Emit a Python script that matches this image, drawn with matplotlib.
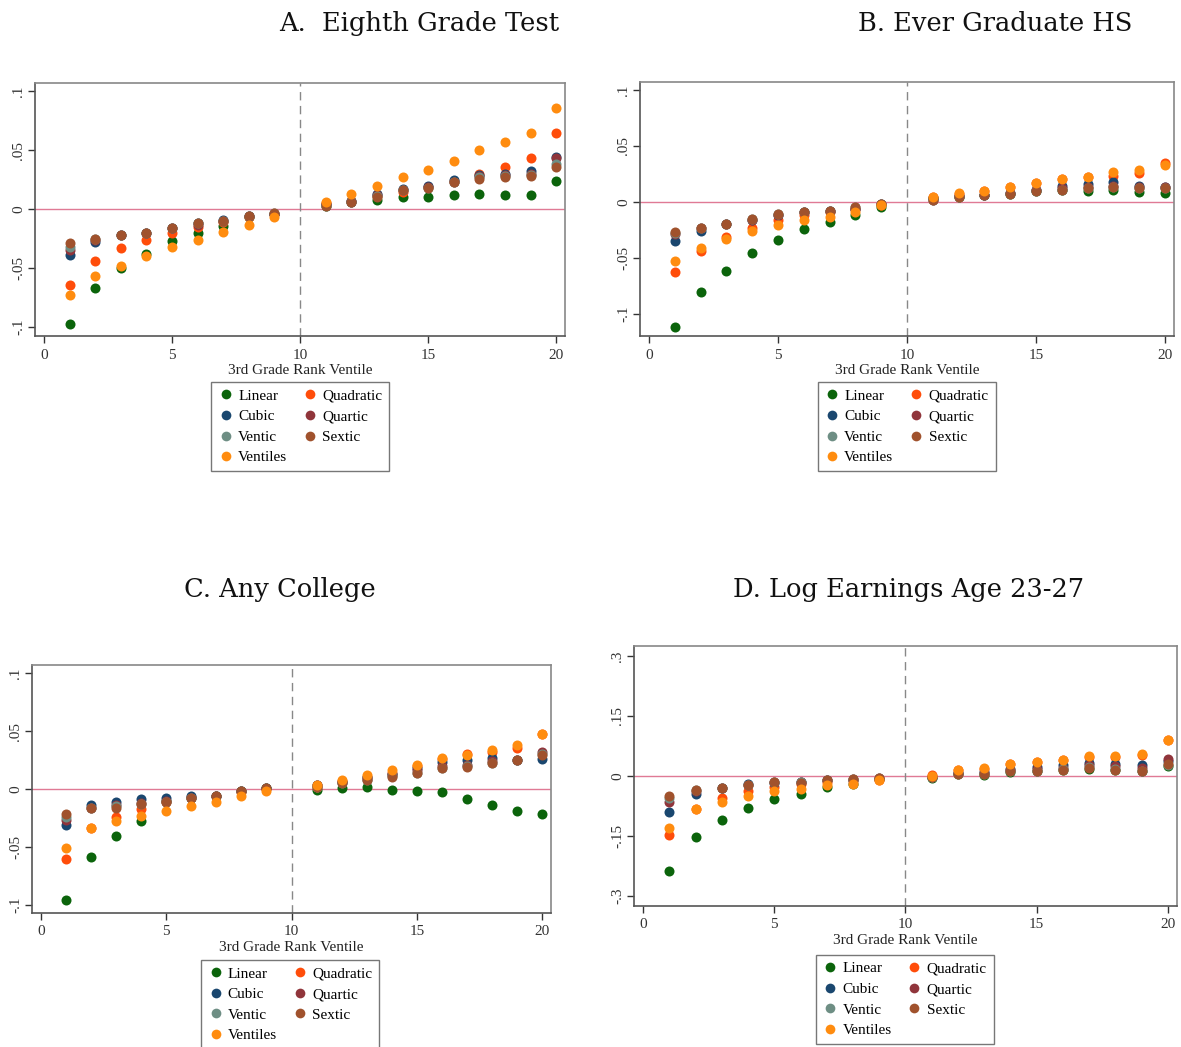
"""Polynomial-fit comparison of rank ventile effects, four outcome panels."""

import matplotlib
matplotlib.use("Agg")
import matplotlib.pyplot as plt
from matplotlib.lines import Line2D

plt.rcParams["font.family"] = ["Liberation Serif", "DejaVu Serif"]

# --- Data ---------------------------------------------------------------------
ventiles = [1, 2, 3, 4, 5, 6, 7, 8, 9, 11, 12, 13, 14, 15, 16, 17, 18, 19, 20]

series_names = ["Linear", "Quadratic", "Cubic", "Quartic", "Ventic", "Sextic", "Ventiles"]

# A. Eighth Grade Test
a_linear = [-0.097, -0.067, -0.050, -0.038, -0.027, -0.020, -0.014, -0.007, -0.004,
            0.003, 0.006, 0.008, 0.010, 0.010, 0.012, 0.013, 0.012, 0.012, 0.024]
a_quadratic = [-0.064, -0.044, -0.033, -0.026, -0.020, -0.015, -0.011, -0.007, -0.004,
               0.005, 0.007, 0.011, 0.015, 0.019, 0.024, 0.030, 0.036, 0.043, 0.065]
a_cubic = [-0.039, -0.028, -0.022, -0.020, -0.016, -0.012, -0.009, -0.006, -0.004,
           0.004, 0.007, 0.013, 0.017, 0.020, 0.025, 0.029, 0.030, 0.032, 0.044]
a_quartic = [-0.035, -0.026, -0.022, -0.020, -0.016, -0.013, -0.010, -0.006, -0.004,
             0.004, 0.006, 0.012, 0.016, 0.019, 0.023, 0.028, 0.029, 0.030, 0.043]
a_ventic = [-0.032, -0.025, -0.022, -0.020, -0.016, -0.012, -0.010, -0.006, -0.003,
            0.003, 0.006, 0.011, 0.016, 0.018, 0.023, 0.027, 0.028, 0.029, 0.038]
a_sextic = [-0.029, -0.025, -0.022, -0.020, -0.016, -0.012, -0.010, -0.006, -0.003,
            0.003, 0.006, 0.010, 0.016, 0.018, 0.023, 0.026, 0.027, 0.028, 0.036]
a_ventiles = [-0.073, -0.057, -0.048, -0.040, -0.032, -0.026, -0.019, -0.013, -0.007,
              0.006, 0.013, 0.020, 0.027, 0.033, 0.041, 0.050, 0.057, 0.065, 0.086]

# B. Ever Graduate HS
b_linear = [-0.112, -0.081, -0.062, -0.046, -0.034, -0.024, -0.018, -0.012, -0.005,
            0.003, 0.004, 0.006, 0.007, 0.010, 0.011, 0.010, 0.011, 0.009, 0.008]
b_quadratic = [-0.063, -0.044, -0.031, -0.023, -0.016, -0.012, -0.009, -0.006, -0.003,
               0.004, 0.007, 0.010, 0.013, 0.017, 0.020, 0.022, 0.023, 0.026, 0.035]
b_cubic = [-0.035, -0.026, -0.020, -0.016, -0.012, -0.009, -0.008, -0.006, -0.002,
           0.003, 0.005, 0.006, 0.008, 0.011, 0.014, 0.016, 0.018, 0.014, 0.013]
b_quartic = [-0.029, -0.023, -0.020, -0.016, -0.012, -0.009, -0.008, -0.006, -0.002,
             0.002, 0.005, 0.006, 0.008, 0.011, 0.012, 0.013, 0.014, 0.013, 0.013]
b_ventic = [-0.028, -0.023, -0.020, -0.015, -0.011, -0.009, -0.008, -0.005, -0.002,
            0.002, 0.004, 0.006, 0.007, 0.010, 0.011, 0.012, 0.013, 0.012, 0.012]
b_sextic = [-0.027, -0.023, -0.020, -0.015, -0.011, -0.009, -0.008, -0.005, -0.002,
            0.002, 0.004, 0.006, 0.007, 0.010, 0.011, 0.012, 0.013, 0.012, 0.012]
b_ventiles = [-0.053, -0.041, -0.033, -0.026, -0.021, -0.016, -0.014, -0.009, -0.003,
              0.004, 0.008, 0.010, 0.013, 0.017, 0.020, 0.022, 0.027, 0.028, 0.033]

# C. Any College
c_linear = [-0.096, -0.059, -0.041, -0.028, -0.010, -0.008, -0.006, -0.002, 0.001,
            -0.001, 0.001, 0.002, -0.001, -0.002, -0.003, -0.009, -0.014, -0.019, -0.022]
c_quadratic = [-0.060, -0.034, -0.024, -0.017, -0.011, -0.007, -0.006, -0.003, 0.000,
               0.002, 0.007, 0.010, 0.014, 0.020, 0.026, 0.030, 0.032, 0.035, 0.047]
c_cubic = [-0.031, -0.014, -0.011, -0.009, -0.008, -0.006, -0.006, -0.002, 0.001,
           0.003, 0.006, 0.010, 0.013, 0.018, 0.023, 0.025, 0.027, 0.025, 0.026]
c_quartic = [-0.027, -0.016, -0.014, -0.012, -0.010, -0.008, -0.006, -0.002, 0.001,
             0.003, 0.006, 0.009, 0.012, 0.016, 0.020, 0.021, 0.024, 0.025, 0.032]
c_ventic = [-0.024, -0.016, -0.015, -0.013, -0.011, -0.008, -0.006, -0.002, 0.001,
            0.002, 0.005, 0.008, 0.011, 0.014, 0.018, 0.020, 0.022, 0.025, 0.030]
c_sextic = [-0.022, -0.016, -0.016, -0.013, -0.011, -0.008, -0.006, -0.002, 0.001,
            0.002, 0.005, 0.008, 0.010, 0.014, 0.018, 0.019, 0.022, 0.025, 0.029]
c_ventiles = [-0.051, -0.034, -0.028, -0.023, -0.019, -0.015, -0.011, -0.006, -0.002,
              0.003, 0.008, 0.012, 0.016, 0.021, 0.027, 0.029, 0.034, 0.038, 0.047]

# D. Log Earnings Age 23-27
d_linear = [-0.238, -0.153, -0.109, -0.080, -0.057, -0.044, -0.028, -0.019, -0.007,
            -0.004, 0.006, 0.003, 0.010, 0.013, 0.014, 0.018, 0.016, 0.012, 0.024]
d_quadratic = [-0.148, -0.082, -0.054, -0.038, -0.028, -0.019, -0.015, -0.013, -0.009,
               0.002, 0.014, 0.018, 0.029, 0.035, 0.039, 0.048, 0.048, 0.053, 0.089]
d_cubic = [-0.089, -0.044, -0.029, -0.021, -0.018, -0.015, -0.011, -0.009, -0.007,
           -0.003, 0.008, 0.010, 0.018, 0.023, 0.027, 0.033, 0.031, 0.027, 0.038]
d_quartic = [-0.065, -0.037, -0.030, -0.022, -0.016, -0.016, -0.011, -0.008, -0.005,
             -0.002, 0.007, 0.008, 0.015, 0.017, 0.021, 0.027, 0.024, 0.019, 0.042]
d_ventic = [-0.055, -0.035, -0.029, -0.022, -0.015, -0.016, -0.011, -0.008, -0.005,
            -0.002, 0.006, 0.006, 0.013, 0.013, 0.017, 0.022, 0.018, 0.013, 0.027]
d_sextic = [-0.049, -0.034, -0.029, -0.022, -0.014, -0.017, -0.011, -0.008, -0.005,
            -0.003, 0.006, 0.006, 0.013, 0.013, 0.016, 0.021, 0.016, 0.012, 0.031]
d_ventiles = [-0.129, -0.083, -0.065, -0.051, -0.038, -0.033, -0.023, -0.019, -0.011,
              0.000, 0.016, 0.020, 0.029, 0.036, 0.041, 0.049, 0.050, 0.054, 0.089]

titles = ["A.  Eighth Grade Test", "B. Ever Graduate HS",
          "C. Any College", "D. Log Earnings Age 23-27"]

small_yticks = [-0.1, -0.05, 0, 0.05, 0.1]
small_yticklabels = ["-.1", "-.05", "0", ".05", ".1"]
big_yticks = [-0.3, -0.15, 0, 0.15, 0.3]
big_yticklabels = ["-.3", "-.15", "0", ".15", ".3"]
xticks = [0, 5, 10, 15, 20]

# --- Style --------------------------------------------------------------------
COLORS = {
    "Linear": "#0b640b",
    "Quadratic": "#ff4d0a",
    "Cubic": "#1a476f",
    "Quartic": "#90353b",
    "Ventic": "#6e8e84",
    "Sextic": "#a0522d",
    "Ventiles": "#ff8c0f",
}
# legend fills column by column; Stata fills row by row
LEGEND_ORDER = ["Linear", "Cubic", "Ventic", "Ventiles", "Quadratic", "Quartic", "Sextic"]

PANELS = [
    # (series lists, axes rect, ylim, yticks, yticklabels, title xy, legend xy)
    ([a_linear, a_quadratic, a_cubic, a_quartic, a_ventic, a_sextic, a_ventiles],
     [0.0296, 0.679, 0.449, 0.2417], (-0.1076, 0.107), small_yticks, small_yticklabels,
     (0.355, 0.978), (0.2544, 0.635)),
    ([b_linear, b_quadratic, b_cubic, b_quartic, b_ventic, b_sextic, b_ventiles],
     [0.542, 0.679, 0.452, 0.2426], (-0.12, 0.107), small_yticks, small_yticklabels,
     (0.843, 0.978), (0.7676, 0.635)),
    ([c_linear, c_quadratic, c_cubic, c_quartic, c_ventic, c_sextic, c_ventiles],
     [0.0271, 0.128, 0.4395, 0.2369], (-0.107, 0.107), small_yticks, small_yticklabels,
     (0.237, 0.437), (0.2456, 0.083)),
    ([d_linear, d_quadratic, d_cubic, d_quartic, d_ventic, d_sextic, d_ventiles],
     [0.5368, 0.1347, 0.4598, 0.2483], (-0.325, 0.325), big_yticks, big_yticklabels,
     (0.769, 0.437), (0.766, 0.088)),
]


def draw_panel(fig, series, rect, ylim, yticks, yticklabels):
    ax = fig.add_axes(rect)
    ax.axhline(0, color="#e07a95", linewidth=1.0, zorder=1)
    ax.axvline(10, color="#888888", linewidth=1.0, linestyle=(0, (6, 4)), zorder=1)
    for name, values in zip(series_names, series):
        ax.scatter(ventiles, values, s=52, color=COLORS[name], linewidths=0,
                   zorder=3)
    ax.set_xlim(-0.35, 20.35)
    ax.set_ylim(*ylim)
    ax.set_xticks(xticks)
    ax.set_yticks(yticks)
    ax.set_yticklabels(yticklabels, rotation=90, va="center")
    ax.tick_params(direction="out", length=5, width=1, colors="#333333",
                   labelsize=11, pad=4)
    ax.tick_params(axis="y", pad=2)
    for side, spine in ax.spines.items():
        spine.set_color("#555555" if side in ("left", "bottom") else "#888888")
        spine.set_linewidth(1.2)
    ax.set_xlabel("3rd Grade Rank Ventile", fontsize=11, labelpad=2, color="#222222")
    return ax


def main() -> None:
    fig = plt.figure(figsize=(11.81, 10.47), dpi=100)
    handles = [Line2D([], [], linestyle="none", marker="o", markersize=7,
                      markeredgewidth=0, color=COLORS[n]) for n in LEGEND_ORDER]
    for (series, rect, ylim, yt, ytl, title_xy, leg_xy), title in zip(PANELS, titles):
        draw_panel(fig, series, rect, ylim, yt, ytl)
        fig.text(*title_xy, title, fontsize=18.5, family="DejaVu Serif",
                 ha="center", va="center", color="#111111")
        fig.legend(handles, LEGEND_ORDER, ncol=2, loc="upper center",
                   bbox_to_anchor=leg_xy, fontsize=11, frameon=True,
                   fancybox=False, edgecolor="#555555", handletextpad=0.3,
                   handlelength=1.0, columnspacing=1.0, labelspacing=0.45,
                   borderpad=0.45, borderaxespad=0)
    fig.savefig("out.png", dpi=100)
    plt.close(fig)


if __name__ == "__main__":
    main()
